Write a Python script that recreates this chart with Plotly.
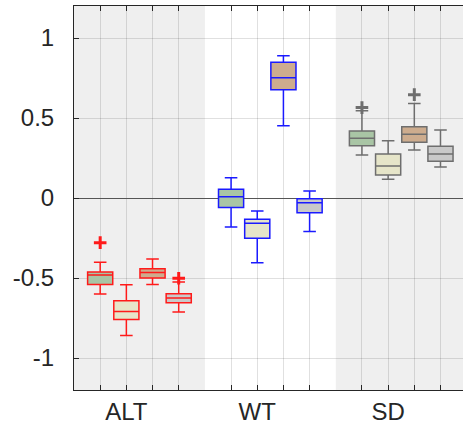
import plotly.graph_objects as go

groups = ["ALT", "WT", "SD"]
series = ["S1", "S2", "S3", "S4"]

# per group, per series (ALT, WT, SD) x (S1..S4)
upper_whisker = [[-0.402, -0.542, -0.381, -0.525],
                 [0.127, -0.081, 0.889, 0.044],
                 [0.546, 0.358, 0.590, 0.425]]
q3_vals = [[-0.462, -0.642, -0.442, -0.598],
           [0.054, -0.133, 0.848, -0.004],
           [0.419, 0.275, 0.446, 0.323]]
median_vals = [[-0.481, -0.710, -0.465, -0.625],
               [0.008, -0.158, 0.752, -0.029],
               [0.373, 0.200, 0.398, 0.275]]
q1_vals = [[-0.540, -0.760, -0.500, -0.654],
           [-0.060, -0.252, 0.677, -0.092],
           [0.327, 0.144, 0.348, 0.229]]
lower_whisker = [[-0.600, -0.860, -0.540, -0.712],
                 [-0.181, -0.404, 0.452, -0.210],
                 [0.269, 0.117, 0.300, 0.194]]
outliers = [[[-0.279], [], [], [-0.502]],
            [[], [], [], []],
            [[0.565], [], [0.646], []]]

fill_colors = ["#A9C5A5", "#E6E5C9", "#CDAC8E", "#C9C9C9"]
edge_colors = ["#FF1A1A", "#1A1AFF", "#6E6E6E"]

fig = go.Figure()
positions = []
for g in range(3):
    for i in range(4):
        pos = g * 5 + i + 1
        positions.append(pos)
        fig.add_trace(go.Box(
            x=[pos], q1=[q1_vals[g][i]], median=[median_vals[g][i]], q3=[q3_vals[g][i]],
            lowerfence=[lower_whisker[g][i]], upperfence=[upper_whisker[g][i]],
            width=0.96, whiskerwidth=0.5, boxpoints=False,
            fillcolor=fill_colors[i], line=dict(color=edge_colors[g], width=1.5),
            showlegend=False, hoverinfo="skip"))
        if outliers[g][i]:
            fig.add_trace(go.Scatter(
                x=[pos] * len(outliers[g][i]), y=outliers[g][i], mode="markers",
                marker=dict(symbol="cross-thin", size=9,
                            line=dict(color=edge_colors[g], width=3)),
                showlegend=False, hoverinfo="skip"))

tick_text = []
for p in positions:
    lab = ""
    for g in range(3):
        if p == g * 5 + 2:
            lab = groups[g]
    tick_text.append(lab)

shapes = []
for x0, x1 in [(0, 5), (10, 15)]:
    shapes.append(dict(type="rect", xref="x", yref="paper", x0=x0, x1=x1, y0=0, y1=1,
                       fillcolor="#EFEFEF", line=dict(width=0), layer="below"))

axis_font = dict(family="Liberation Sans, Arial, sans-serif", size=24, color="#262626")

fig.update_layout(
    width=463, height=433,
    margin=dict(l=74, r=0, t=6, b=43),
    paper_bgcolor="white", plot_bgcolor="white",
    shapes=shapes,
    xaxis=dict(range=[0, 14.86], tickmode="array", tickvals=positions, ticktext=tick_text,
               showgrid=True, gridcolor="rgba(0,0,0,0.12)", gridwidth=1,
               showline=True, linecolor="#262626", linewidth=1, mirror="ticks",
               ticks="inside", ticklen=5, tickcolor="#262626",
               tickfont=axis_font, zeroline=False),
    yaxis=dict(range=[-1.2, 1.2], tickmode="array", tickvals=[-1, -0.5, 0, 0.5, 1],
               ticktext=["-1", "-0.5", "0", "0.5", "1"],
               showgrid=True, gridcolor="rgba(0,0,0,0.12)", gridwidth=1,
               showline=True, linecolor="#262626", linewidth=1,
               ticks="inside", ticklen=5, tickcolor="#262626",
               tickfont=axis_font, ticklabelstandoff=14,
               zeroline=True, zerolinecolor="#555555", zerolinewidth=1.2),
)

fig.write_html("out.html", config={"displayModeBar": False},
               post_script="document.body.style.margin='0px';document.body.style.overflow='hidden';")
